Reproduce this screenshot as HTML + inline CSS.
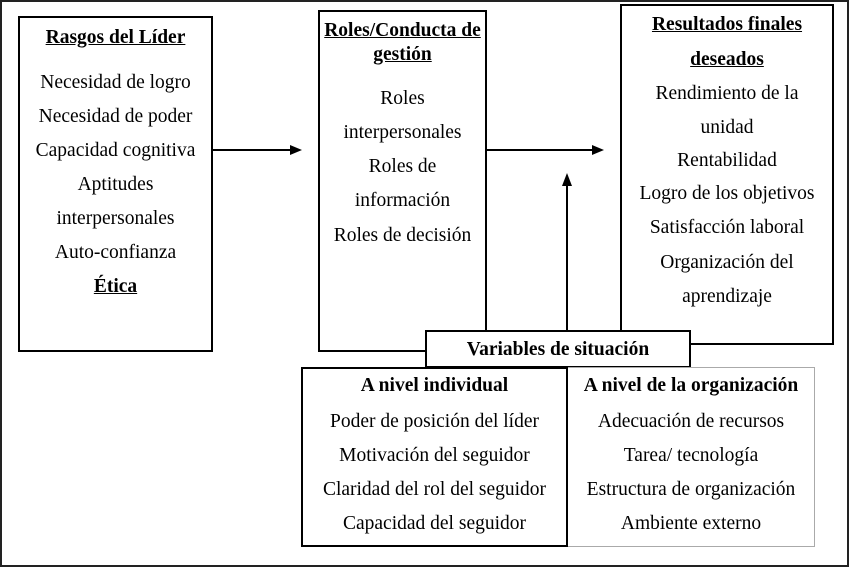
<!DOCTYPE html>
<html><head><meta charset="utf-8"><style>
*{margin:0;padding:0;box-sizing:border-box}
body{width:850px;height:567px;background:#fff;position:relative;overflow:hidden;font-family:"Liberation Serif",serif;font-size:19.5px;color:#000}
.b{position:absolute;border:2px solid #000;background:#fff}
.t{position:absolute;text-align:center;line-height:23px;white-space:nowrap}
.bd{font-weight:bold}
.u{text-decoration:underline}
</style></head><body>
<div style="position:absolute;left:0;top:0;width:849px;height:567px;border:2px solid #222"></div>
<div class="b" style="left:18px;top:16px;width:195px;height:336px"></div>
<div class="b" style="left:318px;top:10px;width:169px;height:342px"></div>
<div class="b" style="left:620px;top:4px;width:214px;height:341px"></div>
<svg style="position:absolute;left:0;top:0" width="850" height="567">
<line x1="213" y1="150" x2="292" y2="150" stroke="#000" stroke-width="2"/>
<polygon points="302,150 290,145 290,155" fill="#000"/>
<line x1="487" y1="150" x2="594" y2="150" stroke="#000" stroke-width="2"/>
<polygon points="604,150 592,145 592,155" fill="#000"/>
<line x1="567" y1="330" x2="567" y2="184" stroke="#000" stroke-width="2"/>
<polygon points="567,173 562,186 572,186" fill="#000"/>
</svg>
<div class="b" style="left:425px;top:330px;width:266px;height:38px"></div>
<div class="b" style="left:567px;top:367px;width:248px;height:180px;border:1px solid #aaa"></div>
<div class="b" style="left:301px;top:367px;width:267px;height:180px"></div>

<div class="t bd" style="left:425px;width:266px;top:338px">Variables de situación</div>

<div class="t bd u" style="left:18px;width:195px;top:26px">Rasgos del Líder</div>
<div class="t" style="left:18px;width:195px;top:71px">Necesidad de logro</div>
<div class="t" style="left:18px;width:195px;top:105px">Necesidad de poder</div>
<div class="t" style="left:18px;width:195px;top:139px">Capacidad cognitiva</div>
<div class="t" style="left:18px;width:195px;top:173px">Aptitudes</div>
<div class="t" style="left:18px;width:195px;top:207px">interpersonales</div>
<div class="t" style="left:18px;width:195px;top:241px">Auto-confianza</div>
<div class="t bd u" style="left:18px;width:195px;top:275px">Ética</div>

<div class="t bd u" style="left:318px;width:169px;top:19px">Roles/Conducta de</div>
<div class="t bd u" style="left:318px;width:169px;top:43px">gestión</div>
<div class="t" style="left:318px;width:169px;top:87px">Roles</div>
<div class="t" style="left:318px;width:169px;top:121px">interpersonales</div>
<div class="t" style="left:318px;width:169px;top:155px">Roles de</div>
<div class="t" style="left:318px;width:169px;top:189px">información</div>
<div class="t" style="left:318px;width:169px;top:224px">Roles de decisión</div>

<div class="t bd u" style="left:620px;width:214px;top:13px">Resultados finales</div>
<div class="t bd u" style="left:620px;width:214px;top:48px">deseados</div>
<div class="t" style="left:620px;width:214px;top:82px">Rendimiento de la</div>
<div class="t" style="left:620px;width:214px;top:116px">unidad</div>
<div class="t" style="left:620px;width:214px;top:149px">Rentabilidad</div>
<div class="t" style="left:620px;width:214px;top:182px">Logro de los objetivos</div>
<div class="t" style="left:620px;width:214px;top:216px">Satisfacción laboral</div>
<div class="t" style="left:620px;width:214px;top:251px">Organización del</div>
<div class="t" style="left:620px;width:214px;top:285px">aprendizaje</div>

<div class="t bd" style="left:301px;width:267px;top:374px">A nivel individual</div>
<div class="t" style="left:301px;width:267px;top:410px">Poder de posición del líder</div>
<div class="t" style="left:301px;width:267px;top:444px">Motivación del seguidor</div>
<div class="t" style="left:301px;width:267px;top:478px">Claridad del rol del seguidor</div>
<div class="t" style="left:301px;width:267px;top:512px">Capacidad del seguidor</div>

<div class="t bd" style="left:567px;width:248px;top:374px">A nivel de la organización</div>
<div class="t" style="left:567px;width:248px;top:410px">Adecuación de recursos</div>
<div class="t" style="left:567px;width:248px;top:444px">Tarea/ tecnología</div>
<div class="t" style="left:567px;width:248px;top:478px">Estructura de organización</div>
<div class="t" style="left:567px;width:248px;top:512px">Ambiente externo</div>
</body></html>
